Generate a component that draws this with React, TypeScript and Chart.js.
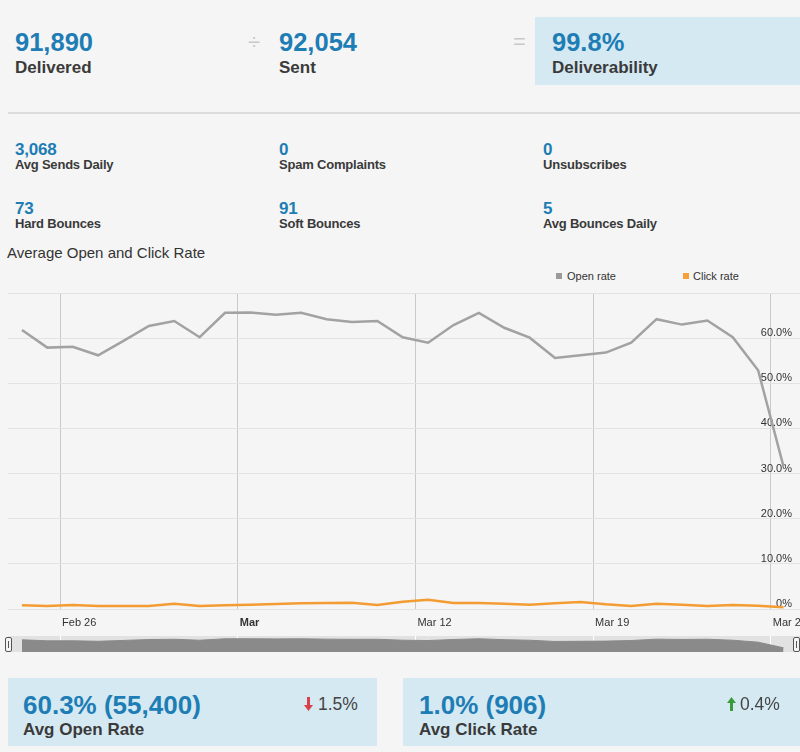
import React, { useEffect, useRef } from 'react';
import { Chart, registerables } from 'chart.js';

Chart.register(...registerables);

// ---- data ----
const dates = [
  '02-24', '02-25', '02-26', '02-27', '02-28', '03-01', '03-02', '03-03', '03-04', '03-05',
  '03-06', '03-07', '03-08', '03-09', '03-10', '03-11', '03-12', '03-13', '03-14', '03-15',
  '03-16', '03-17', '03-18', '03-19', '03-20', '03-21', '03-22', '03-23', '03-24', '03-25', '03-26',
];
const openRate = [
  61.8, 57.9, 58.1, 56.2, 59.4, 62.7, 63.8, 60.2, 65.6, 65.7,
  65.2, 65.6, 64.2, 63.6, 63.8, 60.2, 59.0, 62.9, 65.6, 62.3,
  60.1, 55.6, 56.2, 56.8, 59.0, 64.2, 63.0, 63.9, 60.2, 52.9, 31.6,
];
const clickRate = [
  0.82, 0.67, 0.89, 0.67, 0.67, 0.67, 1.18, 0.67, 0.82, 0.96,
  1.1, 1.26, 1.33, 1.4, 0.89, 1.63, 2.07, 1.33, 1.33, 1.18,
  0.96, 1.26, 1.55, 1.04, 0.67, 1.18, 0.96, 0.67, 0.89, 0.74, 0.37,
];
const tickDates = ['02-26', '03-05', '03-12', '03-19', '03-26'];
const tickLabels = ['Feb 26', 'Mar', 'Mar 12', 'Mar 19', 'Mar 26'];
const yTicks = [0, 10, 20, 30, 40, 50, 60, 70];

const seriesNames = ['Open rate', 'Click rate'];
const seriesColors = ['#a2a2a2', '#f39c33'];

// converts "MM-DD" to days from Feb 26 (points sit at mid-day)
const REF = Date.UTC(2018, 1, 26);
const dayOf = (s: string) => {
  const [m, d] = s.split('-').map(Number);
  return (Date.UTC(2018, m - 1, d) - REF) / 86400000;
};
const X_MIN = -2.05;
const X_MAX = 29.15;

const FONT = "'Liberation Sans', Arial, Helvetica, sans-serif";
const BLUE = '#1d7db4';
const DARK = '#3a3a3a';

function MainChart() {
  const ref = useRef<HTMLCanvasElement | null>(null);
  useEffect(() => {
    if (!ref.current) return;
    const tickVals = tickDates.map(dayOf);
    const chart = new Chart(ref.current, {
      type: 'line',
      data: {
        datasets: [
          {
            label: seriesNames[0],
            data: dates.map((d, i) => ({ x: dayOf(d) + 0.5, y: openRate[i] })),
            borderColor: seriesColors[0],
            borderWidth: 2.5,
            pointRadius: 0,
            tension: 0,
          },
          {
            label: seriesNames[1],
            data: dates.map((d, i) => ({ x: dayOf(d) + 0.5, y: clickRate[i] })),
            borderColor: seriesColors[1],
            borderWidth: 2.5,
            pointRadius: 0,
            tension: 0,
          },
        ],
      },
      options: {
        animation: false,
        responsive: false,
        maintainAspectRatio: false,
        layout: { padding: { top: 8, left: 8, right: 0, bottom: 0 } },
        plugins: { legend: { display: false }, tooltip: { enabled: false } },
        scales: {
          x: {
            type: 'linear',
            min: X_MIN,
            max: X_MAX,
            afterBuildTicks: (s: any) => {
              s.ticks = tickVals.map((v) => ({ value: v }));
            },
            afterFit: (s: any) => {
              s.height = 26;
              s.paddingLeft = 0;
              s.paddingRight = 0;
            },
            ticks: {
              align: 'start',
              padding: 7,
              labelOffset: 2,
              color: '#333',
              font: (ctx: any) => ({
                size: 11,
                family: FONT,
                weight: ctx.tick && ctx.tick.value === tickVals[1] ? 'bold' : 'normal',
              }),
              callback: (v: any) => {
                const idx = tickVals.indexOf(v);
                return idx >= 0 ? tickLabels[idx] : '';
              },
            },
            grid: { color: '#c9c9c9', drawTicks: false },
            border: { display: false },
          },
          y: {
            position: 'right',
            min: 0,
            max: 70,
            afterBuildTicks: (s: any) => {
              s.ticks = yTicks.map((v) => ({ value: v }));
            },
            afterFit: (s: any) => {
              s.width = 0;
              s.paddingTop = 0;
              s.paddingBottom = 0;
            },
            ticks: {
              mirror: true,
              padding: -8,
              labelOffset: -5,
              color: '#333',
              font: { size: 11, family: FONT },
              callback: (v: any) => (v === 0 ? '0%' : v === 70 ? '' : Number(v).toFixed(1) + '%'),
            },
            grid: { color: '#e3e3e3', drawTicks: false },
            border: { display: false },
          },
        },
      },
    });
    return () => chart.destroy();
  }, []);
  return (
    <canvas
      ref={ref}
      width={800}
      height={350}
      style={{ position: 'absolute', left: 0, top: 285, width: 800, height: 350 }}
    />
  );
}

function Navigator() {
  const ref = useRef<HTMLCanvasElement | null>(null);
  useEffect(() => {
    if (!ref.current) return;
    const tickVals = tickDates.map(dayOf);
    const bandPlugin = {
      id: 'band',
      beforeDraw(c: any) {
        const { ctx, chartArea } = c;
        ctx.save();
        ctx.fillStyle = '#e2e2e2';
        ctx.fillRect(chartArea.left, chartArea.top, chartArea.right - chartArea.left, chartArea.bottom - chartArea.top);
        ctx.restore();
      },
    };
    const chart = new Chart(ref.current, {
      type: 'line',
      data: {
        datasets: [
          {
            label: seriesNames[0],
            data: dates.map((d, i) => ({ x: dayOf(d) + 0.5, y: openRate[i] })),
            borderColor: '#8a8a8a',
            backgroundColor: '#8a8a8a',
            borderWidth: 1,
            fill: 'start',
            pointRadius: 0,
            tension: 0,
          },
        ],
      },
      plugins: [bandPlugin],
      options: {
        animation: false,
        responsive: false,
        maintainAspectRatio: false,
        layout: { padding: { top: 6, left: 8, right: 0, bottom: 4 } },
        plugins: { legend: { display: false }, tooltip: { enabled: false } },
        scales: {
          x: {
            type: 'linear',
            min: X_MIN,
            max: X_MAX,
            z: 1,
            afterBuildTicks: (s: any) => {
              s.ticks = tickVals.map((v) => ({ value: v }));
            },
            afterFit: (s: any) => {
              s.height = 0;
              s.paddingLeft = 0;
              s.paddingRight = 0;
            },
            ticks: { display: false },
            grid: { color: '#ffffff', drawTicks: false },
            border: { display: false },
          },
          y: { display: false, min: 16, max: 76 },
        },
      },
    });
    return () => chart.destroy();
  }, []);
  return (
    <canvas
      ref={ref}
      width={800}
      height={26}
      style={{ position: 'absolute', left: 0, top: 630, width: 800, height: 26 }}
    />
  );
}

const abs = (left: number, top: number, extra: React.CSSProperties = {}): React.CSSProperties => ({
  position: 'absolute',
  left,
  top,
  whiteSpace: 'nowrap',
  lineHeight: 1,
  ...extra,
});

function Stat({ x, y, value, label, big }: { x: number; y: number; value: string; label: string; big?: boolean }) {
  if (big) {
    return (
      <>
        <div style={abs(x, y - 1, { fontSize: 25.5, fontWeight: 'bold', color: BLUE })}>{value}</div>
        <div style={abs(x, y + 28, { fontSize: 17, fontWeight: 'bold', color: DARK })}>{label}</div>
      </>
    );
  }
  return (
    <>
      <div style={abs(x, y, { fontSize: 17, fontWeight: 'bold', color: BLUE, letterSpacing: -0.2 })}>{value}</div>
      <div style={abs(x, y + 17, { fontSize: 13, fontWeight: 'bold', color: DARK, letterSpacing: -0.2 })}>{label}</div>
    </>
  );
}

function Arrow({ x, y, color, up }: { x: number; y: number; color: string; up?: boolean }) {
  return (
    <svg width={9} height={14} style={{ position: 'absolute', left: x, top: y }} viewBox="0 0 9 14">
      {up ? (
        <path d="M4.5 0 L9 6 L6 6 L6 14 L3 14 L3 6 L0 6 Z" fill={color} />
      ) : (
        <path d="M3 0 L6 0 L6 8 L9 8 L4.5 14 L0 8 L3 8 Z" fill={color} />
      )}
    </svg>
  );
}

function Handle({ x }: { x: number }) {
  return (
    <div
      style={{
        position: 'absolute',
        left: x,
        top: 637,
        width: 5,
        height: 13,
        background: '#f4f4f4',
        border: '1px solid #555',
        borderRadius: 2,
      }}
    >
      <div style={{ position: 'absolute', left: 2, top: 3, width: 1, height: 7, background: '#555' }} />
    </div>
  );
}

export default function App() {
  return (
    <div
      style={{
        position: 'absolute',
        left: 0,
        top: 0,
        width: 800,
        height: 752,
        overflow: 'hidden',
        background: '#f5f5f5',
        fontFamily: FONT,
      }}
    >
      {/* headline row */}
      <div style={{ position: 'absolute', left: 535, top: 17, width: 265, height: 68, background: '#d5e9f3' }} />
      <Stat x={15} y={31} value="91,890" label="Delivered" big />
      <div style={abs(248, 31, { fontSize: 22, color: '#c9c9c9' })}>÷</div>
      <Stat x={279} y={31} value="92,054" label="Sent" big />
      <div style={abs(513, 31, { fontSize: 22, color: '#c9c9c9' })}>=</div>
      <Stat x={552} y={31} value="99.8%" label="Deliverability" big />

      <div style={{ position: 'absolute', left: 8, top: 112, width: 792, height: 2, background: '#dcdcdc' }} />

      {/* secondary stats */}
      <Stat x={15} y={141} value="3,068" label="Avg Sends Daily" />
      <Stat x={279} y={141} value="0" label="Spam Complaints" />
      <Stat x={543} y={141} value="0" label="Unsubscribes" />
      <Stat x={15} y={200} value="73" label="Hard Bounces" />
      <Stat x={279} y={200} value="91" label="Soft Bounces" />
      <Stat x={543} y={200} value="5" label="Avg Bounces Daily" />

      {/* chart title + legend */}
      <div style={abs(7, 245, { fontSize: 15, color: '#333' })}>Average Open and Click Rate</div>
      <div style={{ position: 'absolute', left: 556, top: 273, width: 6, height: 6, background: '#9a9a9a' }} />
      <div style={abs(567, 271, { fontSize: 11, color: '#333' })}>{seriesNames[0]}</div>
      <div style={{ position: 'absolute', left: 683, top: 273, width: 6, height: 6, background: '#f5a03a' }} />
      <div style={abs(693, 271, { fontSize: 11, color: '#333' })}>{seriesNames[1]}</div>

      <MainChart />
      <Navigator />
      <Handle x={5} />
      <Handle x={793} />

      {/* bottom summary boxes */}
      <div style={{ position: 'absolute', left: 8, top: 678, width: 369, height: 68, background: '#d5e9f3' }} />
      <div style={abs(23, 692, { fontSize: 26, fontWeight: 'bold', color: BLUE })}>60.3% (55,400)</div>
      <div style={abs(23, 721, { fontSize: 17, fontWeight: 'bold', color: DARK })}>Avg Open Rate</div>
      <Arrow x={304} y={697} color="#d8414a" />
      <div style={abs(318, 696, { fontSize: 17.5, color: '#444' })}>1.5%</div>

      <div style={{ position: 'absolute', left: 403, top: 678, width: 397, height: 68, background: '#d5e9f3' }} />
      <div style={abs(419, 692, { fontSize: 26, fontWeight: 'bold', color: BLUE })}>1.0% (906)</div>
      <div style={abs(419, 721, { fontSize: 17, fontWeight: 'bold', color: DARK })}>Avg Click Rate</div>
      <Arrow x={727} y={697} color="#3a9b3a" up />
      <div style={abs(740, 696, { fontSize: 17.5, color: '#444' })}>0.4%</div>
    </div>
  );
}
